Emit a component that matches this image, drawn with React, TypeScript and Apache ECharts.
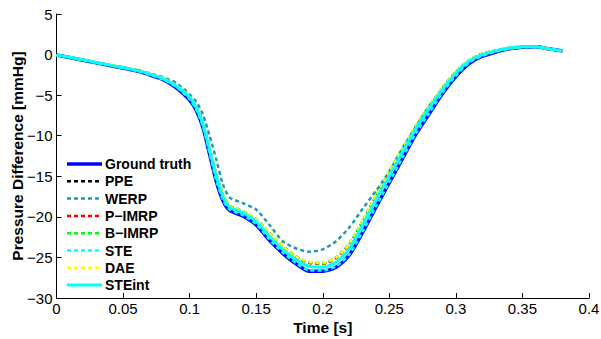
import React, { useEffect, useRef } from "react";
import * as echarts from "echarts";

const time = [0, 0.02, 0.04, 0.06, 0.07, 0.08, 0.09, 0.1, 0.105, 0.11, 0.115, 0.12, 0.125, 0.13, 0.14, 0.15, 0.16, 0.17, 0.18, 0.19, 0.2, 0.21, 0.22, 0.23, 0.24, 0.25, 0.26, 0.27, 0.28, 0.29, 0.3, 0.31, 0.32, 0.33, 0.34, 0.35, 0.36, 0.37, 0.38];

const groundTruth = [-0.05, -0.7, -1.35, -2.0, -2.5, -3.1, -4.1, -5.6, -6.9, -9.0, -12.3, -15.6, -18.0, -19.2, -19.9, -21.0, -22.9, -24.5, -25.8, -26.7, -26.7, -26.2, -24.7, -21.9, -18.8, -15.8, -12.8, -9.8, -7.3, -4.8, -2.7, -1.1, -0.2, 0.3, 0.7, 0.9, 0.95, 0.7, 0.45];
const ppe = [-0.05, -0.65, -1.3, -1.9, -2.4, -2.9, -3.8, -5.2, -6.4, -8.4, -11.5, -14.7, -17.2, -18.6, -19.3, -20.3, -22.0, -23.6, -24.9, -25.6, -25.7, -25.0, -23.3, -20.5, -17.4, -14.5, -11.6, -8.8, -6.4, -4.1, -2.1, -0.7, 0.1, 0.5, 0.8, 0.95, 0.95, 0.7, 0.45];
const werp = [-0.05, -0.65, -1.3, -1.9, -2.3, -2.8, -3.5, -4.9, -5.8, -7.4, -10.0, -12.9, -16.0, -17.6, -18.3, -19.1, -21.0, -23.0, -23.9, -24.3, -24.0, -23.0, -21.3, -19.0, -16.8, -14.4, -11.5, -8.9, -6.3, -4.4, -2.3, -0.9, -0.05, 0.45, 0.8, 0.95, 1.0, 0.7, 0.45];
const pImrp = [-0.05, -0.65, -1.3, -1.9, -2.4, -2.95, -3.85, -5.25, -6.5, -8.5, -11.6, -14.8, -17.3, -18.7, -19.4, -20.4, -22.1, -23.7, -25.0, -25.7, -25.8, -25.1, -23.4, -20.6, -17.5, -14.6, -11.7, -8.9, -6.5, -4.2, -2.2, -0.75, 0.05, 0.5, 0.8, 0.95, 0.95, 0.7, 0.45];
const bImrp = [-0.05, -0.65, -1.3, -1.9, -2.4, -2.95, -3.85, -5.2, -6.45, -8.45, -11.55, -14.75, -17.25, -18.65, -19.35, -20.35, -22.05, -23.65, -24.95, -25.65, -25.75, -25.05, -23.35, -20.55, -17.45, -14.55, -11.65, -8.85, -6.45, -4.15, -2.15, -0.7, 0.1, 0.5, 0.8, 0.95, 0.95, 0.7, 0.45];
const ste = [-0.05, -0.7, -1.35, -2.0, -2.5, -3.1, -4.0, -5.5, -6.8, -8.9, -12.2, -15.5, -17.9, -19.1, -19.8, -20.9, -22.8, -24.4, -25.7, -26.6, -26.6, -26.1, -24.6, -21.8, -18.7, -15.7, -12.7, -9.7, -7.2, -4.7, -2.6, -1.0, -0.15, 0.35, 0.7, 0.9, 0.95, 0.7, 0.45];
const dae = [-0.05, -0.6, -1.25, -1.9, -2.35, -2.9, -3.8, -5.2, -6.4, -8.4, -11.5, -14.7, -17.2, -18.6, -19.3, -20.3, -22.0, -23.6, -24.9, -25.55, -25.65, -25.0, -23.3, -20.5, -17.4, -14.5, -11.6, -8.8, -6.4, -4.1, -2.1, -0.7, 0.1, 0.5, 0.8, 0.95, 0.95, 0.7, 0.45];
const steInt = [-0.05, -0.65, -1.3, -1.95, -2.4, -3.0, -3.9, -5.3, -6.6, -8.6, -11.8, -15.0, -17.5, -18.8, -19.5, -20.6, -22.4, -24.0, -25.3, -26.1, -26.2, -25.6, -23.9, -21.0, -17.9, -14.9, -12.0, -9.1, -6.6, -4.3, -2.3, -0.8, 0.0, 0.45, 0.8, 0.95, 0.95, 0.7, 0.45];

const seriesNames = ["Ground truth", "PPE", "WERP", "P\u2212IMRP", "B\u2212IMRP", "STE", "DAE", "STEint"];
const seriesColors = ["#0000ff", "#000000", "#1f9ab5", "#ff0000", "#00ff00", "#00ffff", "#ffff00", "#00ffff"];
const seriesValues = [groundTruth, ppe, werp, pImrp, bImrp, ste, dae, steInt];
const seriesDotted = [false, true, true, true, true, true, true, false];

const FONT = "'Liberation Sans', Arial, Helvetica, sans-serif";

function lineWidth(k: number) {
  return seriesDotted[k] ? 2.5 : k === 0 ? 3.5 : 3;
}

export default function App() {
  const ref = useRef<HTMLDivElement>(null);
  useEffect(() => {
    if (!ref.current) return;
    const chart = echarts.init(ref.current, undefined, { renderer: "svg" });
    const series = seriesNames.map((name, k) => ({
      name,
      type: "line",
      data: time.map((t, i) => [t, seriesValues[k][i]]),
      showSymbol: false,
      symbol: "none",
      smooth: 0.25,
      color: seriesColors[k],
      lineStyle: {
        color: seriesColors[k],
        width: lineWidth(k),
        type: seriesDotted[k] ? [4, 3] : "solid",
        cap: "butt",
      },
      z: 2 + k,
    }));

    const legendTop = 164;
    const legendStep = 17.3;
    const legendItems: any[] = [];
    seriesNames.forEach((name, k) => {
      const y = legendTop + legendStep * k;
      legendItems.push({
        type: "line",
        shape: { x1: 67, y1: y, x2: 102, y2: y },
        style: {
          stroke: seriesColors[k],
          lineWidth: lineWidth(k),
          lineDash: seriesDotted[k] ? [4, 3] : null,
          lineCap: "butt",
        },
        z: 100,
      });
      legendItems.push({
        type: "text",
        x: 105,
        y: y,
        style: {
          text: name,
          fontFamily: FONT,
          fontWeight: "bold",
          fontSize: 14,
          fill: "#000",
          textVerticalAlign: "middle",
          verticalAlign: "middle",
          align: "left",
        },
        z: 100,
      });
    });

    chart.setOption({
      animation: false,
      textStyle: { fontFamily: FONT },
      grid: {
        left: 56.5,
        right: 12,
        top: 14,
        bottom: 41,
        containLabel: false,
        outerBoundsMode: "none",
      },
      xAxis: {
        type: "value",
        min: 0,
        max: 0.4,
        interval: 0.05,
        name: "Time [s]",
        nameLocation: "middle",
        nameGap: 21,
        nameMoveOverlap: false,
        nameTextStyle: {
          fontFamily: FONT,
          fontWeight: "bold",
          fontSize: 15.5,
          lineHeight: 16,
          color: "#000",
        },
        axisLine: { show: true, onZero: false, lineStyle: { color: "#000", width: 1 } },
        axisTick: { show: true, inside: true, length: 5, lineStyle: { color: "#000" } },
        axisLabel: {
          color: "#000",
          fontSize: 15,
          lineHeight: 14,
          fontFamily: FONT,
          margin: 3,
          formatter: (v: number) => String(parseFloat(v.toFixed(2))),
        },
        splitLine: { show: false },
      },
      yAxis: {
        type: "value",
        min: -30,
        max: 5,
        interval: 5,
        name: "Pressure Difference [mmHg]",
        nameLocation: "middle",
        nameGap: 31,
        nameMoveOverlap: false,
        nameTextStyle: { fontFamily: FONT, fontWeight: "bold", fontSize: 15.5, color: "#000" },
        axisLine: { show: true, onZero: false, lineStyle: { color: "#000", width: 1 } },
        axisTick: { show: true, inside: true, length: 5, lineStyle: { color: "#000" } },
        axisLabel: {
          color: "#000",
          fontSize: 15,
          fontFamily: FONT,
          margin: 4,
          formatter: (v: number) => (v < 0 ? "\u2212" + Math.abs(v) : String(v)),
        },
        splitLine: { show: false },
      },
      graphic: legendItems,
      series,
    });
    return () => chart.dispose();
  }, []);
  return (
    <div
      ref={ref}
      style={{ position: "fixed", left: 0, top: 0, width: 601, height: 339, background: "#fff" }}
    />
  );
}
